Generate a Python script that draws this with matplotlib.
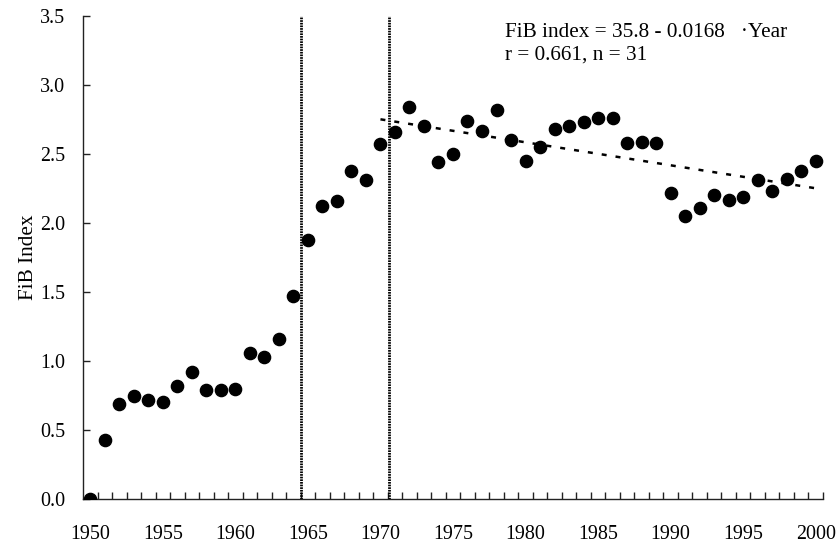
import numpy as np
import matplotlib
matplotlib.use("Agg")
import matplotlib.pyplot as plt
from matplotlib.ticker import FixedLocator, FormatStrFormatter

# ---- data ----
years = list(range(1950, 2001))
fib_index = [
    0.00, 0.43, 0.69, 0.75, 0.72, 0.70, 0.82, 0.92, 0.79, 0.79,   # 1950-1959
    0.80, 1.06, 1.03, 1.16, 1.47, 1.88, 2.12, 2.16, 2.38, 2.31,   # 1960-1969
    2.57, 2.66, 2.84, 2.70, 2.44, 2.50, 2.74, 2.67, 2.82, 2.60,   # 1970-1979
    2.45, 2.55, 2.68, 2.70, 2.73, 2.76, 2.76, 2.58, 2.59, 2.58,   # 1980-1989
    2.22, 2.05, 2.11, 2.20, 2.17, 2.19, 2.31, 2.23, 2.32, 2.38,   # 1990-1999
    2.45,                                                         # 2000
]
break_years = [1964.55, 1970.62]
fit_start, fit_end = 1970, 2000
x_tick_labels = [1950, 1955, 1960, 1965, 1970, 1975, 1980, 1985, 1990, 1995, 2000]
y_ticks = [0.0, 0.5, 1.0, 1.5, 2.0, 2.5, 3.0, 3.5]
eq_text = "FiB index = 35.8 - 0.0168   \u00b7Year"
r_text = "r = 0.661, n = 31"

plt.rcParams['font.family'] = ['Liberation Serif', 'DejaVu Serif']
plt.rcParams['font.size'] = 14.4

fig = plt.figure(figsize=(8.38, 5.43), dpi=100)
ax = fig.add_axes([0.0991, 0.081, 0.8829, 0.8895])

yr = np.array(years, dtype=float)
fv = np.array(fib_index)

# scatter
ax.plot(yr, fv, linestyle='none', marker='o', markersize=8.8,
        color='black', zorder=3)

# regression line on 1970-2000
m = (yr >= fit_start) & (yr <= fit_end)
coef = np.polyfit(yr[m], fv[m], 1)
xs = np.array([fit_start, fit_end], dtype=float)
ax.plot(xs, np.polyval(coef, xs), color='black', linewidth=1.8,
        linestyle=(0, (2, 3.6)), zorder=2)

# breakpoints
for b in break_years:
    ax.plot([b, b], [0, 3.5], color='black', linewidth=2.0,
            linestyle=(0, (0.6, 0.35)), zorder=2)

ax.set_xlim(1949.5, 2000.5)
ax.set_ylim(0, 3.5)

ax.spines['top'].set_visible(False)
ax.spines['right'].set_visible(False)
for s in ('left', 'bottom'):
    ax.spines[s].set_linewidth(1.0)
    ax.spines[s].set_color('#222222')

ax.xaxis.set_major_locator(FixedLocator(x_tick_labels))
ax.xaxis.set_minor_locator(FixedLocator(np.arange(1950.5, 2001.0, 1.0)))
ax.tick_params(axis='x', which='major', length=0, pad=19)
ax.tick_params(axis='x', which='minor', direction='in', length=5,
               width=1.0, color='#222222')

ax.set_yticks(y_ticks)
ax.yaxis.set_major_formatter(FormatStrFormatter('%.1f'))
ax.tick_params(axis='y', which='major', direction='in', length=5,
               width=1.0, color='#222222', pad=13)

ax.set_ylabel("FiB Index", labelpad=1, fontsize=15.3)

ax.text(1978.6, 3.38, eq_text, ha='left', va='center', fontsize=15.3)
ax.text(1978.6, 3.22, r_text, ha='left', va='center', fontsize=15.3)

fig.savefig("out.png", dpi=100)
